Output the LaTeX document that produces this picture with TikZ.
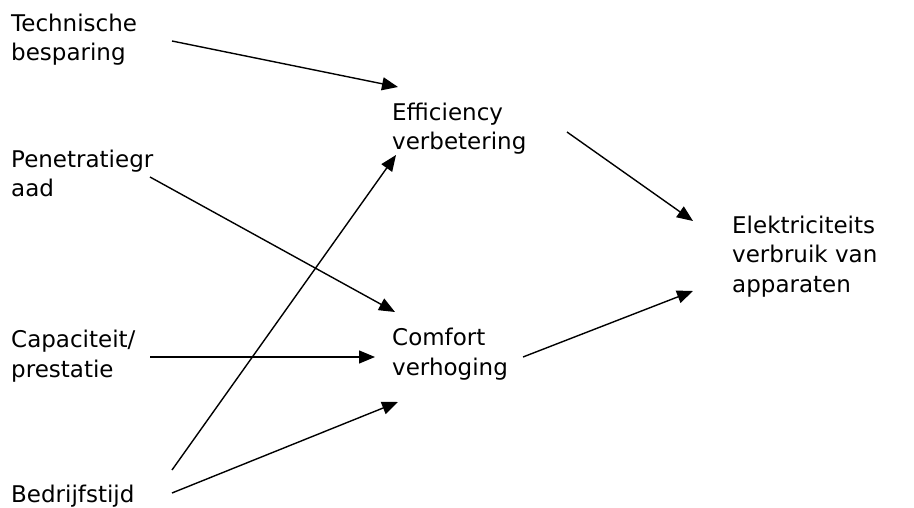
\documentclass[tikz,border=0pt]{standalone}
\usepackage{fontspec}
\setmainfont{DejaVu Sans}
\usetikzlibrary{arrows.meta}

\tikzset{
  label text/.style={anchor=base west, inner sep=0pt, align=left,
    font=\fontsize{23pt}{29.5pt}\selectfont},
  influence/.style={line width=1.4pt, -{Triangle[length=16pt,width=13pt]}}
}

\begin{document}
\begin{tikzpicture}[x=1pt, y=-1pt]
  \useasboundingbox (0,0) rectangle (914,508);

  % causes (placed at the baseline of their last line)
  \node [label text] (tech) at (11,61) {Technische\\besparing};
  \node [label text] (pen) at (11,197) {Penetratiegr\\aad};
  \node [label text] (cap) at (11,377) {Capaciteit/\\prestatie};
  \node [label text] (bedr) at (11,502) {Bedrijfstijd};

  % intermediate effects
  \node [label text] (eff) at (392,150) {Efficiency\\verbetering};
  \node [label text] (comf) at (392,375) {Comfort\\verhoging};

  % result
  \node [label text] (elek) at (732,292) {Elektriciteits\\verbruik van\\apparaten};

  % connector ends
  \coordinate (tech-out) at (172,41);
  \coordinate (pen-out) at (150,177);
  \coordinate (cap-out) at (150,357);
  \coordinate (bedr-out1) at (172,470);
  \coordinate (bedr-out2) at (172,493);
  \coordinate (eff-in1) at (398,87);
  \coordinate (eff-in2) at (396,155);
  \coordinate (eff-out) at (567,132);
  \coordinate (comf-in1) at (395,312);
  \coordinate (comf-in2) at (375,357);
  \coordinate (comf-in3) at (398,402);
  \coordinate (comf-out) at (523,357);
  \coordinate (elek-in1) at (693,221);
  \coordinate (elek-in2) at (693,291);

  \draw [influence] (tech-out) -- (eff-in1);
  \draw [influence] (pen-out) -- (comf-in1);
  \draw [influence] (cap-out) -- (comf-in2);
  \draw [influence] (bedr-out1) -- (eff-in2);
  \draw [influence] (bedr-out2) -- (comf-in3);
  \draw [influence] (eff-out) -- (elek-in1);
  \draw [influence] (comf-out) -- (elek-in2);
\end{tikzpicture}
\end{document}
